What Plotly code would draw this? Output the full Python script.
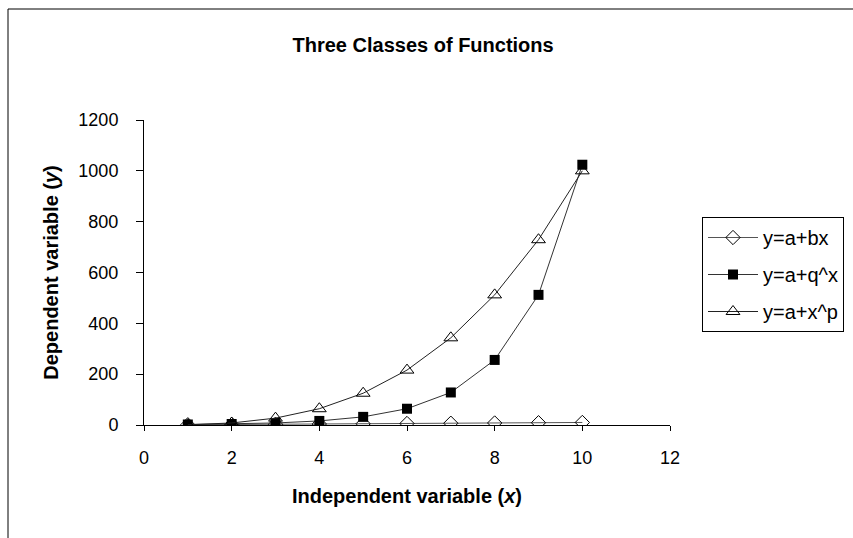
import plotly.graph_objects as go

x_vals = [1, 2, 3, 4, 5, 6, 7, 8, 9, 10]
y_linear = [1, 2, 3, 4, 5, 6, 7, 8, 9, 10]
y_exponential = [2, 4, 8, 16, 32, 64, 128, 256, 512, 1024]
y_power = [1, 8, 27, 64, 125, 216, 343, 512, 729, 1000]
series_names = ["y=a+bx", "y=a+q^x", "y=a+x^p"]

W, H = 853, 538
L, R, T, B = 144, 853 - 670, 120, 538 - 425
pw, ph = W - L - R, H - T - B

def px_to_paper_x(p):
    return (p - L) / pw

def px_to_paper_y(p):
    return (H - B - p) / ph

FONT = "Arial, Liberation Sans, sans-serif"

fig = go.Figure()
fig.add_trace(go.Scatter(
    x=x_vals, y=y_linear, name=series_names[0], mode="lines+markers",
    line=dict(color="#555555", width=1),
    marker=dict(symbol="diamond-open", size=11, color="#000000", line=dict(width=1, color="#000000")),
    legendgroup="a"))
fig.add_trace(go.Scatter(
    x=x_vals, y=y_exponential, name=series_names[1], mode="lines+markers",
    line=dict(color="#333333", width=1),
    marker=dict(symbol="square", size=10, color="#000000"),
    legendgroup="b"))
fig.add_trace(go.Scatter(
    x=x_vals, y=y_power, name=series_names[2], mode="lines+markers",
    line=dict(color="#222222", width=1),
    marker=dict(symbol="triangle-up-open", size=12, color="#000000", line=dict(width=1, color="#000000")),
    legendgroup="c"))

fig.update_layout(
    width=W, height=H,
    margin=dict(l=L, r=R, t=T, b=B, autoexpand=False),
    paper_bgcolor="white", plot_bgcolor="white",
    font=dict(family=FONT, color="black", size=18),
    title=dict(text="<b>Three Classes of Functions</b>", x=0.496, xanchor="center",
               y=1 - 45 / H, yanchor="middle", yref="container",
               font=dict(size=20, family=FONT, color="black")),
    xaxis=dict(range=[0, 12], tickvals=[0, 2, 4, 6, 8, 10, 12], showgrid=False, zeroline=False,
               showline=True, linecolor="black", linewidth=1, ticks="outside", ticklen=5,
               tickcolor="black", tickfont=dict(size=18), ticklabelstandoff=11,
               title=dict(text="<b>Independent variable (<i>x</i>)</b>", font=dict(size=20), standoff=22)),
    yaxis=dict(range=[0, 1200], tickvals=[0, 200, 400, 600, 800, 1000, 1200], showgrid=False, zeroline=False,
               showline=True, linecolor="black", linewidth=1, ticks="outside", ticklen=7,
               tickcolor="black", tickfont=dict(size=18), ticklabelstandoff=14,
               title=dict(text="<b>Dependent variable (<i>y</i>)</b>", font=dict(size=20), standoff=14)),
    legend=dict(x=px_to_paper_x(702), y=px_to_paper_y(217), xanchor="left", yanchor="top",
                bordercolor="black", borderwidth=1, bgcolor="white",
                font=dict(size=20, family=FONT, color="black"), tracegroupgap=8,
                itemwidth=50),
    shapes=[dict(type="rect", xref="paper", yref="paper",
                 x0=px_to_paper_x(8), x1=px_to_paper_x(900),
                 y0=px_to_paper_y(560), y1=px_to_paper_y(9),
                 line=dict(color="black", width=1), fillcolor="rgba(0,0,0,0)", layer="below")],
)

fig.write_html("out.html")
